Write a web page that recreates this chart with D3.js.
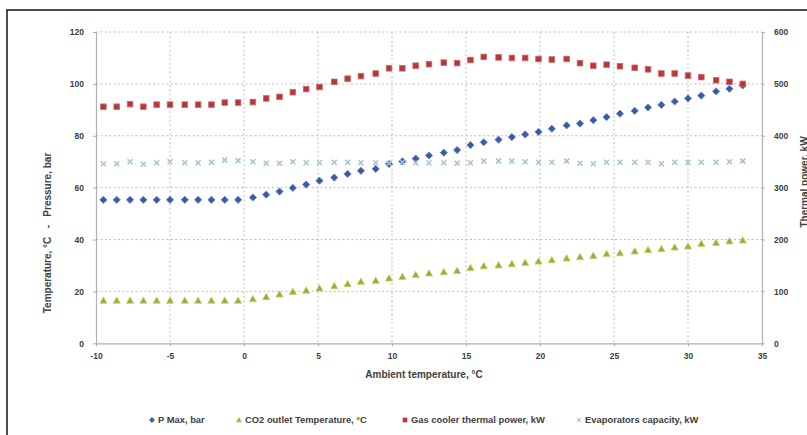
<!DOCTYPE html>
<html>
<head>
<meta charset="utf-8">
<script src="https://cdn.jsdelivr.net/npm/d3@7"></script>
<style>
  body { margin: 0; background: #fff; }
  svg text { font-family: "Liberation Sans", sans-serif; fill: #404040; }
</style>
</head>
<body>
<div id="chart"></div>
<script>
// ambient temperature, °C (x of every point)
var ambient = [-9.5, -8.6, -7.7, -6.8, -5.9, -5.0, -4.0, -3.1, -2.2, -1.3, -0.4, 0.6,
               1.5, 2.4, 3.3, 4.2, 5.1, 6.1, 7.0, 7.9, 8.9, 9.8, 10.7, 11.6,
               12.5, 13.5, 14.4, 15.3, 16.2, 17.2, 18.1, 19.0, 19.9, 20.8, 21.8, 22.7,
               23.6, 24.5, 25.4, 26.4, 27.3, 28.2, 29.1, 30.0, 30.9, 31.9, 32.8, 33.7];

// P Max, bar (left axis)
var pMax = [55.3, 55.3, 55.3, 55.3, 55.3, 55.3, 55.3, 55.3, 55.3, 55.3, 55.3, 56.2,
            57.3, 58.5, 59.9, 61.2, 62.7, 63.9, 65.3, 66.5, 67.2, 69.1, 70.1, 71.2,
            72.4, 73.5, 74.5, 76.4, 77.5, 78.5, 79.5, 80.5, 81.5, 82.7, 84.0, 84.7,
            86.0, 87.2, 88.5, 89.6, 90.9, 91.9, 93.2, 94.4, 95.5, 97.1, 98.1, 99.4];

// CO2 outlet temperature, °C (left axis)
var co2Out = [16.5, 16.5, 16.5, 16.5, 16.5, 16.5, 16.5, 16.5, 16.5, 16.5, 16.5, 17.1,
              17.9, 18.9, 19.9, 20.4, 21.2, 22.1, 22.9, 23.8, 24.2, 25.1, 25.7, 26.4,
              27.0, 27.5, 28.0, 29.1, 29.8, 30.1, 30.6, 31.1, 31.6, 32.1, 32.8, 33.3,
              33.8, 34.5, 34.8, 35.5, 36.0, 36.4, 37.0, 37.4, 38.4, 38.8, 39.4, 39.7];

// gas cooler thermal power, kW (right axis)
var gasCooler = [456, 456, 461, 456, 460, 460, 460, 460, 460, 464, 464, 465,
                 472, 475, 484, 490, 494, 504, 510, 515, 520, 530, 530, 535,
                 538, 541, 540, 546, 552, 551, 550, 550, 548, 547, 548, 540,
                 535, 537, 534, 531, 528, 520, 520, 516, 513, 507, 504, 500];

// evaporators capacity, kW (right axis)
var evapCap = [346, 346, 350, 345, 348, 350, 348, 348, 349, 353, 352, 350,
               347, 347, 350, 348, 348, 349, 349, 348, 348, 347, 349, 348,
               348, 348, 347, 348, 351, 351, 351, 350, 349, 349, 351, 347,
               346, 349, 349, 349, 349, 346, 349, 349, 349, 349, 350, 351];

var xTicks = [-10, -5, 0, 5, 10, 15, 20, 25, 30, 35];
var leftTicks = [0, 20, 40, 60, 80, 100, 120];
var rightTicks = [0, 100, 200, 300, 400, 500, 600];

var legendNames = ["P Max, bar", "CO2 outlet Temperature, °C",
                   "Gas cooler thermal power, kW", "Evaporators capacity, kW"];

var width = 807, height = 435;
var plotLeft = 96, plotRight = 762, plotTop = 32, plotBottom = 343.3;

var svg = d3.select("#chart").append("svg")
            .attr("width", width)
            .attr("height", height);

// black frame, runs off the right and bottom edge
svg.append("rect")
   .attr("x", 7).attr("y", 10)
   .attr("width", 820).attr("height", 450)
   .attr("fill", "none")
   .attr("stroke", "#111")
   .attr("stroke-width", 1.5);

var x = d3.scaleLinear().domain([-10, 35]).range([plotLeft, plotRight]);
var yL = d3.scaleLinear().domain([0, 120]).range([plotBottom, plotTop]);
var yR = d3.scaleLinear().domain([0, 600]).range([plotBottom, plotTop]);

// grid
var grid = svg.append("g")
              .attr("stroke", "#bcbcbc")
              .attr("stroke-width", 1)
              .attr("stroke-dasharray", "2,2.4");

grid.selectAll("line.h")
    .data(leftTicks.filter(function(d) { return d > 0; }))
    .enter().append("line")
    .attr("x1", plotLeft).attr("x2", plotRight)
    .attr("y1", function(d) { return yL(d); })
    .attr("y2", function(d) { return yL(d); });

grid.selectAll("line.v")
    .data(xTicks.filter(function(d) { return d > -10 && d < 35; }))
    .enter().append("line")
    .attr("y1", plotTop).attr("y2", plotBottom)
    .attr("x1", function(d) { return x(d); })
    .attr("x2", function(d) { return x(d); });

// axes
function styleAxis(g) {
    g.select(".domain").attr("stroke", "#b0b0b0").attr("stroke-width", 1.2);
    g.selectAll(".tick line").attr("stroke", "#b0b0b0");
    g.selectAll("text")
     .style("font-size", "8.5px")
     .style("font-weight", "bold")
     .attr("fill", "#404040");
}

svg.append("g")
   .attr("transform", "translate(0," + plotBottom + ")")
   .call(d3.axisBottom(x).tickValues(xTicks).tickFormat(String)
           .tickSize(3).tickSizeOuter(0).tickPadding(7))
   .call(styleAxis);

svg.append("g")
   .attr("transform", "translate(" + plotLeft + ",0)")
   .call(d3.axisLeft(yL).tickValues(leftTicks).tickFormat(String)
           .tickSize(3).tickSizeOuter(0).tickPadding(9))
   .call(styleAxis);

svg.append("g")
   .attr("transform", "translate(" + plotRight + ",0)")
   .call(d3.axisRight(yR).tickValues(rightTicks).tickFormat(String)
           .tickSize(3).tickSizeOuter(0).tickPadding(9))
   .call(styleAxis);

// axis titles
svg.append("text")
   .attr("transform", "translate(51,233) rotate(-90)")
   .attr("text-anchor", "middle")
   .style("font-size", "10px").style("font-weight", "bold")
   .style("white-space", "pre")
   .text("Temperature, °C   -   Pressure, bar");

svg.append("text")
   .attr("transform", "translate(808,182) rotate(-90)")
   .attr("text-anchor", "middle")
   .style("font-size", "10px").style("font-weight", "bold")
   .text("Thermal power, kW");

svg.append("text")
   .attr("x", 424).attr("y", 378)
   .attr("text-anchor", "middle")
   .style("font-size", "10px").style("font-weight", "bold")
   .text("Ambient temperature, °C");

// markers
var blue = "#3b5aa6", green = "#9aad3a", red = "#b3373b", cyan = "#a3c6d0";

function diamond(g) {
    g.append("path").attr("d", "M0,-3.6L3.6,0L0,3.6L-3.6,0Z")
     .attr("fill", blue).attr("stroke", "#5b7cc4").attr("stroke-width", 0.8);
}
function triangle(g) {
    g.append("path").attr("d", "M0,-3.6L3.6,2.8L-3.6,2.8Z")
     .attr("fill", green).attr("stroke", "#c7d46a").attr("stroke-width", 0.8);
}
function square(g) {
    g.append("rect").attr("x", -2.8).attr("y", -2.8).attr("width", 5.6).attr("height", 5.6)
     .attr("fill", red).attr("stroke", "#d0676a").attr("stroke-width", 0.8);
}
function cross(g) {
    g.append("path").attr("d", "M-2.5,-2.5L2.5,2.5M-2.5,2.5L2.5,-2.5")
     .attr("stroke", cyan).attr("stroke-width", 1.6).attr("fill", "none");
}

function plotSeries(values, yScale, shape) {
    var g = svg.append("g");
    g.selectAll("g")
     .data(values)
     .enter().append("g")
     .attr("transform", function(d, i) { return "translate(" + x(ambient[i]) + "," + yScale(d) + ")"; })
     .each(function() { shape(d3.select(this)); });
}

plotSeries(pMax, yL, diamond);
plotSeries(co2Out, yL, triangle);
plotSeries(gasCooler, yR, square);
plotSeries(evapCap, yR, cross);

// legend
var legendX = [152, 239, 405, 579];
var shapes = [diamond, triangle, square, cross];
var legend = svg.append("g").attr("transform", "translate(0,420)");
legendNames.forEach(function(name, i) {
    var item = legend.append("g").attr("transform", "translate(" + legendX[i] + ",0)");
    var m = item.append("g").attr("transform", "scale(0.75)");
    shapes[i](m);
    item.append("text")
        .attr("x", 6).attr("y", 3.3)
        .style("font-size", "9.4px").style("font-weight", "bold")
        .text(name);
});
</script>
</body>
</html>
